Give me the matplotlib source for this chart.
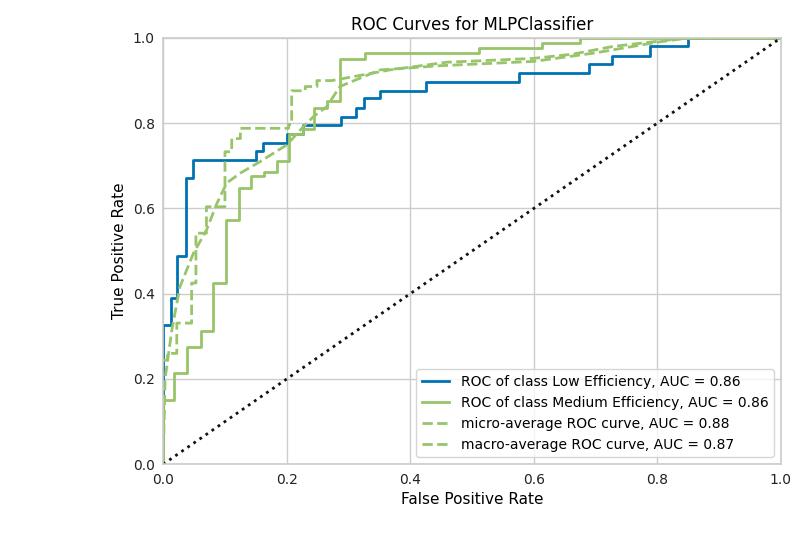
import matplotlib
matplotlib.use('Agg')
import matplotlib.pyplot as plt

# step curves (fpr, tpr)
low_fpr = [0, 0, 0.012, 0.012, 0.023, 0.023, 0.037, 0.037, 0.049, 0.049, 0.150, 0.150, 0.161, 0.161,
           0.200, 0.200, 0.226, 0.226, 0.288, 0.288, 0.312, 0.312, 0.325, 0.325, 0.351, 0.351,
           0.425, 0.425, 0.576, 0.576, 0.689, 0.689, 0.726, 0.726, 0.788, 0.788, 0.850, 0.850, 1.0]
low_tpr = [0, 0.326, 0.326, 0.39, 0.39, 0.488, 0.488, 0.672, 0.672, 0.714, 0.714, 0.735, 0.735, 0.754,
           0.754, 0.775, 0.775, 0.796, 0.796, 0.815, 0.815, 0.836, 0.836, 0.858, 0.858, 0.876,
           0.876, 0.897, 0.897, 0.918, 0.918, 0.938, 0.938, 0.958, 0.958, 0.98, 0.98, 1.0, 1.0]

med_fpr = [0, 0, 0.018, 0.018, 0.039, 0.039, 0.061, 0.061, 0.080, 0.080, 0.102, 0.102, 0.123, 0.123,
           0.142, 0.142, 0.163, 0.163, 0.184, 0.184, 0.204, 0.204, 0.226, 0.226, 0.244, 0.244,
           0.265, 0.265, 0.286, 0.286, 0.327, 0.327, 0.512, 0.512, 0.614, 0.614, 0.675, 0.675, 1.0]
med_tpr = [0, 0.150, 0.150, 0.213, 0.213, 0.275, 0.275, 0.313, 0.313, 0.426, 0.426, 0.574, 0.574, 0.649,
           0.649, 0.675, 0.675, 0.686, 0.686, 0.712, 0.712, 0.775, 0.775, 0.786, 0.786, 0.836,
           0.836, 0.851, 0.851, 0.950, 0.950, 0.964, 0.964, 0.976, 0.976, 0.988, 0.988, 1.0, 1.0]

micro_fpr = [0, 0.007, 0.007, 0.022, 0.022, 0.046, 0.046, 0.053, 0.053, 0.070, 0.070, 0.100, 0.100,
             0.111, 0.111, 0.125, 0.125, 0.203, 0.203, 0.208, 0.208, 0.230, 0.230, 0.249, 0.249,
             0.273, 0.367, 0.459, 0.599, 0.663, 0.728, 0.847, 1.0]
micro_tpr = [0.244, 0.244, 0.26, 0.26, 0.331, 0.331, 0.425, 0.425, 0.542, 0.542, 0.604, 0.604, 0.733,
             0.733, 0.764, 0.764, 0.788, 0.788, 0.797, 0.797, 0.876, 0.876, 0.886, 0.886, 0.900,
             0.900, 0.925, 0.943, 0.952, 0.962, 0.980, 1.0, 1.0]

macro_fpr = [0, 0.003, 0.014, 0.027, 0.049, 0.070, 0.087, 0.103, 0.125, 0.157, 0.200, 0.227, 0.243,
             0.265, 0.286, 0.351, 0.45, 0.6, 0.7, 0.8, 0.85, 1.0]
macro_tpr = [0, 0.2, 0.315, 0.416, 0.495, 0.549, 0.612, 0.660, 0.683, 0.710, 0.749, 0.792, 0.815,
             0.839, 0.886, 0.925, 0.935, 0.945, 0.965, 0.99, 1.0, 1.0]

blue = '#0072B2'
green = '#98C46A'

fig = plt.figure(figsize=(8, 5.5), dpi=100)
ax = fig.add_axes([0.204, 0.156, 0.772, 0.775])
ax.set_facecolor('white')
ax.grid(True, color='#cccccc', linewidth=1)
ax.set_axisbelow(True)
for s in ax.spines.values():
    s.set_color('#cccccc')
    s.set_linewidth(1.2)
ax.tick_params(length=0, labelsize=10, colors='#222222', pad=6)

ax.plot(low_fpr, low_tpr, color=blue, lw=2, label='ROC of class Low Efficiency, AUC = 0.86')
ax.plot(med_fpr, med_tpr, color=green, lw=2, label='ROC of class Medium Efficiency, AUC = 0.86')
ax.plot(micro_fpr, micro_tpr, color=green, lw=2, ls='--', label='micro-average ROC curve, AUC = 0.88')
ax.plot(macro_fpr, macro_tpr, color=green, lw=2, ls='--', label='macro-average ROC curve, AUC = 0.87')
ax.plot([0, 1], [0, 1], color='#111111', ls=':', lw=2)

ax.set_xlim(0, 1)
ax.set_ylim(0, 1)
ax.set_title('ROC Curves for MLPClassifier', fontsize=12)
ax.set_xlabel('False Positive Rate', fontsize=11)
ax.set_ylabel('True Positive Rate', fontsize=11)
leg = ax.legend(loc='lower right', frameon=True, fontsize=10)
leg.get_frame().set_edgecolor('#cccccc')

fig.savefig('out.png')
